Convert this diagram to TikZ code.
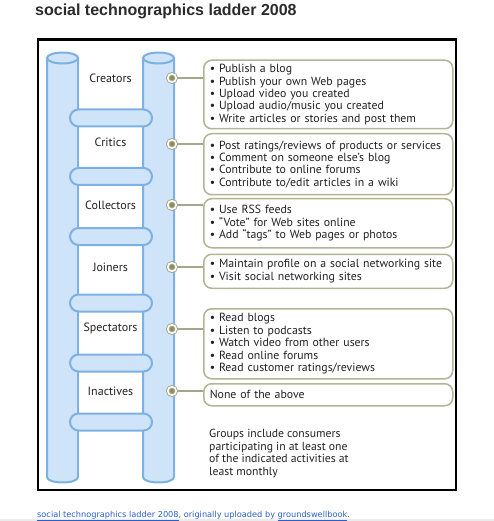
\documentclass[tikz,border=0pt]{standalone}
\usepackage{fontspec}
\setmainfont{PT Sans}
\newfontfamily\titlefont{Liberation Sans}
\newfontfamily\capfont{DejaVu Sans}
\definecolor{railfill}{HTML}{CFE4F8}
\definecolor{raildraw}{HTML}{7DB0E3}
\definecolor{boxdraw}{HTML}{B3B396}
\definecolor{dotfill}{HTML}{8F8F5C}
\definecolor{linecol}{HTML}{A6A68C}
\definecolor{txt}{HTML}{222222}
\definecolor{titlecol}{HTML}{2B2B2B}
\definecolor{linkblue}{HTML}{2A5FCC}
\tikzset{
  rail/.style={fill=railfill, draw=raildraw, line width=2pt},
  rung/.style={fill=railfill, draw=raildraw, line width=2pt, rounded corners=8.5pt},
  lbl/.style={font=\fontsize{12}{14}\selectfont, text=txt, inner sep=0pt},
  dot/.style={circle, inner sep=0pt, minimum size=8.5pt, fill=dotfill, draw=linecol, line width=0.9pt, double=white, double distance=1.6pt},
  conn/.style={draw=linecol, line width=1.5pt},
  box/.style={draw=boxdraw, line width=1.5pt, rounded corners=8pt, anchor=north west, inner xsep=6pt, inner ysep=0pt,
    text width=237pt, align=left, minimum width=247pt, font=\fontsize{11.8}{12.4}\selectfont, text=txt},
}
\begin{document}
\begin{tikzpicture}[x=1pt,y=-1pt]
\path[use as bounding box, fill=white] (0,0) rectangle (494,521);
\fill[color=black!8] (0,519) rectangle (494,521);
% title
\node[anchor=base west, inner sep=0pt, font=\titlefont\bfseries\fontsize{16}{18}\selectfont, text=titlecol] (title) at (35,15.5) {social technographics ladder 2008};
% frame
\draw[line width=2.5pt] (38,39.5) rectangle (456,490);
% rails
\draw[rail] (47,58) -- (47,477) .. controls (47,484.3) and (78,484.3) .. (78,477) -- (78,58) -- cycle;
\draw[rail] (62.5,58) ellipse [x radius=15.5, y radius=5.5];
\draw[rail] (143,58) -- (143,477) .. controls (143,484.3) and (174,484.3) .. (174,477) -- (174,58) -- cycle;
\draw[rail] (158.5,58) ellipse [x radius=15.5, y radius=5.5];
% white space between rails
\fill[white] (79,64) rectangle (142,476);
% rungs
\foreach \y in {118,176.5,236.5,303,363,422}{
  \draw[rung] (70,\y-8.5) rectangle (152,\y+8.5);
}
% labels
\node[lbl] (l1) at (110.5,78) {Creators};
\node[lbl] (l2) at (110.5,142) {Critics};
\node[lbl] (l3) at (110.5,205) {Collectors};
\node[lbl] (l4) at (110.5,267) {Joiners};
\node[lbl] (l5) at (110.5,328.5) {Spectators};
\node[lbl] (l6) at (110.5,391) {Inactives};
% boxes
\node[box, minimum height=68.5pt] (b1) at (203,59.5) {• Publish a blog\\• Publish your own Web pages\\• Upload video you created\\• Upload audio/music you created\\• Write articles or stories and post them};
\node[box, minimum height=61pt] (b2) at (203,133) {• Post ratings/reviews of products or services\\• Comment on someone else’s blog\\• Contribute to online forums\\• Contribute to/edit articles in a wiki};
\node[box, minimum height=49pt] (b3) at (203,198) {• Use RSS feeds\\• “Vote” for Web sites online\\• Add “tags” to Web pages or photos};
\node[box, minimum height=34pt] (b4) at (203,253.5) {• Maintain profile on a social networking site\\• Visit social networking sites};
\node[box, minimum height=70pt] (b5) at (203,308) {• Read blogs\\• Listen to podcasts\\• Watch video from other users\\• Read online forums\\• Read customer ratings/reviews};
\node[box, minimum height=22pt] (b6) at (203,383) {None of the above};
% dots and connectors
\foreach \i/\y in {1/78,2/144,3/205,4/267,5/329,6/391}{
  \node[dot] (d\i) at (172,\y) {};
  \draw[conn] (d\i.east) -- (d\i.east -| b\i.west);
}
% note
\node[anchor=north west, inner sep=0pt, align=left, font=\fontsize{11.7}{12.7}\selectfont, text=txt] (note) at (209,429) {Groups include consumers\\participating in at least one\\of the indicated activities at\\least monthly};
% caption
\node[anchor=base west, inner sep=0pt, font=\capfont\fontsize{8.2}{9}\selectfont, text=linkblue] (cap) at (37,517.5) {\underline{social technographics ladder 2008}, originally uploaded by \underline{groundswellbook}.};
\end{tikzpicture}
\end{document}
